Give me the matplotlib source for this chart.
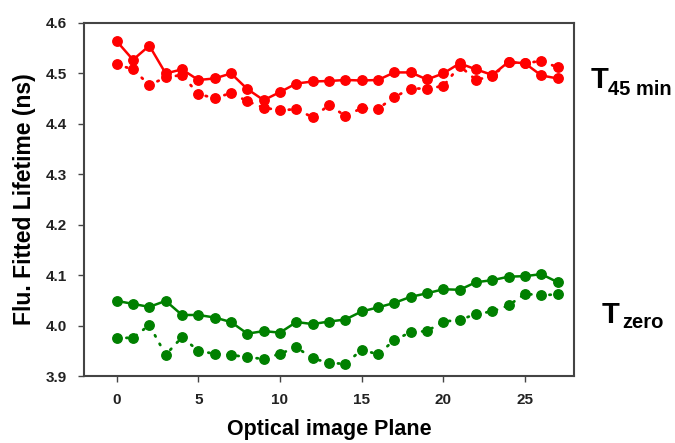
import matplotlib
matplotlib.use("Agg")
import matplotlib.pyplot as plt
import numpy as np

plt.rcParams['font.family'] = ['Liberation Sans', 'DejaVu Sans']

# Optical image plane index
planes = list(range(28))

# T45 min, two measurement runs (ns)
t45_solid = [4.564, 4.527, 4.555, 4.500, 4.508, 4.487, 4.490, 4.500, 4.469, 4.447,
             4.463, 4.480, 4.484, 4.485, 4.487, 4.486, 4.487, 4.502, 4.502, 4.488,
             4.500, 4.520, 4.508, 4.497, 4.523, 4.520, 4.496, 4.490]
t45_dotted = [4.518, 4.508, 4.477, 4.492, 4.497, 4.459, 4.451, 4.461, 4.445, 4.432,
              4.427, 4.429, 4.413, 4.437, 4.416, 4.431, 4.430, 4.453, 4.470, 4.470,
              4.475, 4.515, 4.487, 4.495, 4.522, 4.520, 4.525, 4.512]

# T zero, two measurement runs (ns)
tzero_solid = [4.049, 4.043, 4.037, 4.049, 4.021, 4.021, 4.016, 4.007, 3.984, 3.989,
               3.986, 4.007, 4.003, 4.008, 4.012, 4.028, 4.036, 4.045, 4.057, 4.064,
               4.072, 4.071, 4.086, 4.090, 4.097, 4.098, 4.102, 4.086]
tzero_dotted = [3.975, 3.976, 4.001, 3.942, 3.977, 3.950, 3.944, 3.942, 3.937, 3.934,
                3.944, 3.957, 3.935, 3.926, 3.924, 3.952, 3.943, 3.971, 3.987, 3.989,
                4.008, 4.011, 4.023, 4.028, 4.040, 4.063, 4.060, 4.062]

x_ticks = [0, 5, 10, 15, 20, 25]
y_ticks = [3.9, 4.0, 4.1, 4.2, 4.3, 4.4, 4.5, 4.6]

RED = '#ff0000'
GREEN = '#008000'

fig = plt.figure(figsize=(6.75, 4.43), dpi=100)
ax = fig.add_axes([84 / 675, 1 - 376 / 443, 490 / 675, 353 / 443])

ms = 6.8
dotted = (0, (0.5, 3.0))
ax.plot(planes, t45_solid, '-o', color=RED, lw=1.8, ms=ms)
ax.plot(planes, t45_dotted, 'o', color=RED, ls=dotted, lw=2.0, ms=ms,
        dash_capstyle='round')
ax.plot(planes, tzero_solid, '-o', color=GREEN, lw=1.8, ms=ms)
ax.plot(planes, tzero_dotted, 'o', color=GREEN, ls=dotted, lw=2.0, ms=ms,
        dash_capstyle='round')

ax.set_xlim(-2, 28)
ax.set_ylim(3.9, 4.6)
ax.set_xticks(x_ticks)
ax.set_yticks(y_ticks)
ax.set_yticklabels([f'{v:.1f}' for v in y_ticks])

for s in ax.spines.values():
    s.set_color('#444444')
    s.set_linewidth(1.5)

ax.tick_params(axis='both', direction='out', length=4, width=1, color='#444444',
               labelsize=11, labelcolor='#222222', pad=8)
for lbl in ax.get_xticklabels() + ax.get_yticklabels():
    lbl.set_fontweight('bold')

ax.set_xlabel('Optical image Plane', fontsize=15.5, fontweight='bold', labelpad=9)
ax.set_ylabel('Flu. Fitted Lifetime (ns)', fontsize=16.5, fontweight='bold', labelpad=7)

# Group labels to the right of the plot
def group_label(x_px, y_px, sub, sub_dx, sub_dy):
    fx, fy = x_px / 675, 1 - y_px / 443
    fig.text(fx, fy, 'T', fontsize=21, fontweight='bold', ha='left', va='baseline')
    fig.text(fx + sub_dx / 675, fy - sub_dy / 443, sub, fontsize=14.5,
             fontweight='bold', ha='left', va='baseline')

group_label(591, 88, '45 min', 17, 7)
group_label(602, 323, 'zero', 20, 5)

fig.savefig('out.png', dpi=100)
